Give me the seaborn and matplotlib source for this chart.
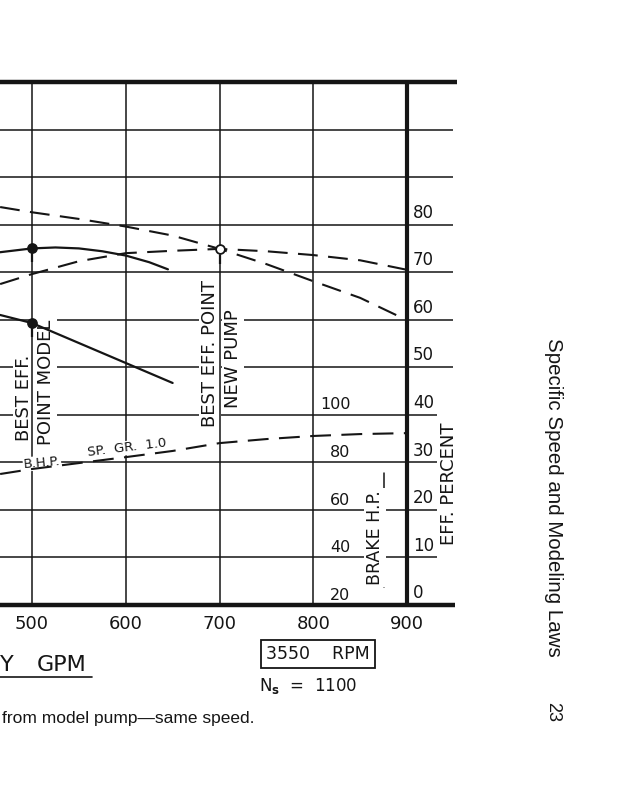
import numpy as np
import pandas as pd
import matplotlib
matplotlib.use("Agg")
import matplotlib.pyplot as plt
import seaborn as sns
from matplotlib.lines import Line2D

# ---------------- data ----------------
gpm_ticks = [500, 600, 700, 800, 900]
eff_ticks = [0, 10, 20, 30, 40, 50, 60, 70, 80]
bhp_ticks = [20, 40, 60, 80, 100]
grid_levels = [10, 20, 30, 40, 50, 60, 70, 80, 90, 100]

# new pump head (dashed, plotted in chart units of the efficiency scale)
head_new_gpm = [466, 500, 550, 600, 650, 700, 750, 800, 850, 900]
head_new = [83.7, 82.6, 81.2, 79.6, 77.7, 74.9, 71.7, 68.1, 64.6, 59.9]

# new pump efficiency, percent (dashed)
eff_new_gpm = [466, 500, 550, 600, 650, 700, 750, 800, 850, 900]
eff_new = [67.5, 69.6, 72.3, 74.0, 74.5, 74.9, 74.4, 73.6, 72.5, 70.5]

# model pump efficiency, percent (solid)
eff_model_gpm = [466, 500, 525, 550, 575, 600, 625, 645]
eff_model = [74.2, 75.0, 75.2, 75.0, 74.4, 73.5, 72.1, 70.6]

# model pump head (solid, chart units)
head_model_gpm = [466, 500, 550, 600, 650]
head_model = [61.0, 59.3, 55.1, 50.9, 46.7]

# brake horsepower, sp. gr. 1.0 (dashed)
bhp_gpm = [466, 500, 550, 600, 650, 700, 750, 800, 850, 900]
bhp = [75.1, 77.2, 79.7, 82.2, 84.8, 88.1, 89.8, 91.1, 91.9, 92.3]

# best efficiency points
bep_model_gpm = [500, 500]
bep_model_y = [75.1, 59.3]
bep_new_gpm = [700]
bep_new_y = [74.9]

# ---------------- styling ----------------
sns.set_style("white")
plt.rcParams['font.family'] = ['DejaVu Sans']
INK = '#151515'
W, H = 636, 800

fig = plt.figure(figsize=(W / 100, H / 100), dpi=100)
fig.patch.set_facecolor('white')

# axes spans pixel x 0..457, y 82..605
ax = fig.add_axes([0, (H - 605) / H, 457 / W, 523 / H])
x0 = 500 - 32 / 0.9375
x1 = x0 + 457 / 0.9375
ax.set_xlim(x0, x1)
ax.set_ylim(0, 110)
for s in ax.spines.values():
    s.set_visible(False)
ax.set_yticks([])
ax.set_xticks(gpm_ticks)
ax.set_xticklabels([str(g) for g in gpm_ticks])
ax.tick_params(axis='x', length=0, pad=7, labelsize=13, colors=INK)

ax2 = ax.twinx()
ax2.set_ylim(20, 240)
ax2.set_yticks([])
for s in ax2.spines.values():
    s.set_visible(False)


def fx(px):
    return px / W


def fy(py):
    return 1 - py / H


# grid
for lv in grid_levels:
    end = 932 if lv <= 40 else 949
    ax.hlines(lv, x0, end, color=INK, lw=1.1, zorder=1)
ax.hlines(110, x0, x1, color=INK, lw=3.2, zorder=5, clip_on=False)
ax.hlines(0, x0, 951, color=INK, lw=3.2, zorder=5, clip_on=False)
for g in gpm_ticks[:-1]:
    ax.vlines(g, 0, 110, color=INK, lw=1.1, zorder=4)
ax.vlines(900, 0, 110, color=INK, lw=3.0, zorder=5)

# curves
sns.lineplot(x=head_new_gpm, y=head_new, ax=ax, color=INK, lw=1.5, zorder=6)
ax.lines[-1].set_dashes((9.5, 5))
sns.lineplot(x=eff_new_gpm, y=eff_new, ax=ax, color=INK, lw=1.5, zorder=6)
ax.lines[-1].set_dashes((9.5, 5))
sns.lineplot(x=eff_model_gpm, y=eff_model, ax=ax, color=INK, lw=1.6, zorder=6)
sns.lineplot(x=head_model_gpm, y=head_model, ax=ax, color=INK, lw=1.6, zorder=6)
sns.lineplot(x=bhp_gpm, y=bhp, ax=ax2, color=INK, lw=1.5, zorder=6)
ax2.lines[-1].set_dashes((10, 5))

# best efficiency point markers
ax.scatter(bep_model_gpm, bep_model_y, s=45, color=INK, zorder=7)
ax.vlines(bep_model_gpm, np.array(bep_model_y) - 3.0, bep_model_y, color=INK, lw=1.6, zorder=7)
ax.scatter(bep_new_gpm, bep_new_y, s=40, facecolor='white', edgecolor=INK, lw=1.3, zorder=7)
ax.vlines(bep_new_gpm, np.array(bep_new_y) - 3.2, np.array(bep_new_y) - 1.2, color=INK, lw=1.6, zorder=7)

# scale labels
for e in eff_ticks:
    ax.text(906.4, e + 0.6, str(e), fontsize=12, color=INK, ha='left', va='bottom', zorder=8)
for b in bhp_ticks:
    ax2.text(839.5, b + 1.0, str(b), fontsize=11.5, color=INK, ha='right', va='bottom', zorder=8)

wb = dict(facecolor='white', edgecolor='none', pad=1.5)


def rtext(px, py, s, fs=13, rot=90, va='bottom', bbox=wb, **kw):
    ax.text(fx(px), fy(py), s, transform=fig.transFigure, rotation=rot, ha='center',
            va=va, fontsize=fs, color=INK, zorder=3, bbox=bbox, **kw)


rtext(24, 441, "BEST EFF.")
rtext(46, 445, "POINT MODEL")
rtext(210, 427, "BEST EFF. POINT")
rtext(233, 408, "NEW PUMP")
rtext(375, 585, "BRAKE H.P.", fs=12.5)
rtext(449, 545, "EFF. PERCENT", fs=13)
ax.add_artist(Line2D([fx(384), fx(384)], [fy(473), fy(587)], transform=fig.transFigure, color=INK, lw=1.1))
ax.add_artist(Line2D([fx(459), fx(459)], [fy(400), fy(545)], transform=fig.transFigure, color=INK, lw=1.1))

ax.text(fx(42), fy(463), "B.H.P.", transform=fig.transFigure, rotation=5, ha='center', va='center',
        fontsize=9.5, color=INK, zorder=8, bbox=dict(facecolor='white', edgecolor='none', pad=0.5))
ax.text(fx(127), fy(448), "SP.  GR.  1.0", transform=fig.transFigure, rotation=7, ha='center', va='center',
        fontsize=9.5, color=INK, zorder=8, bbox=dict(facecolor='white', edgecolor='none', pad=0.5))

# bottom annotations
fig.text(fx(0), fy(665), "Y", fontsize=16, color=INK, ha='left', va='center')
fig.text(fx(37), fy(665), "GPM", fontsize=16, color=INK, ha='left', va='center')
fig.add_artist(Line2D([0, fx(92)], [fy(677), fy(677)], color=INK, lw=1.2))
fig.text(fx(318), fy(654), "3550    RPM", fontsize=12.5, color=INK, ha='center', va='center',
         bbox=dict(boxstyle='square,pad=0.3', facecolor='white', edgecolor=INK, lw=1.3))
fig.text(fx(308), fy(686), r"N$_\mathbf{s}$  =  1100", fontsize=12, color=INK, ha='center', va='center')
fig.text(fx(2), fy(718), "from model pump\u2014same speed.", fontsize=12.5, color=INK,
         ha='left', va='center', family=['Liberation Sans', 'DejaVu Sans'])

# running head
fig.text(fx(553), fy(338), "Specific Speed and Modeling Laws", rotation=-90, fontsize=14.8, color=INK,
         ha='center', va='top', family=['Liberation Sans', 'DejaVu Sans'])
fig.text(fx(553), fy(702), "23", rotation=-90, fontsize=13, color=INK,
         ha='center', va='top', family=['Liberation Sans', 'DejaVu Sans'])

fig.savefig("out.png", dpi=100, facecolor='white')
